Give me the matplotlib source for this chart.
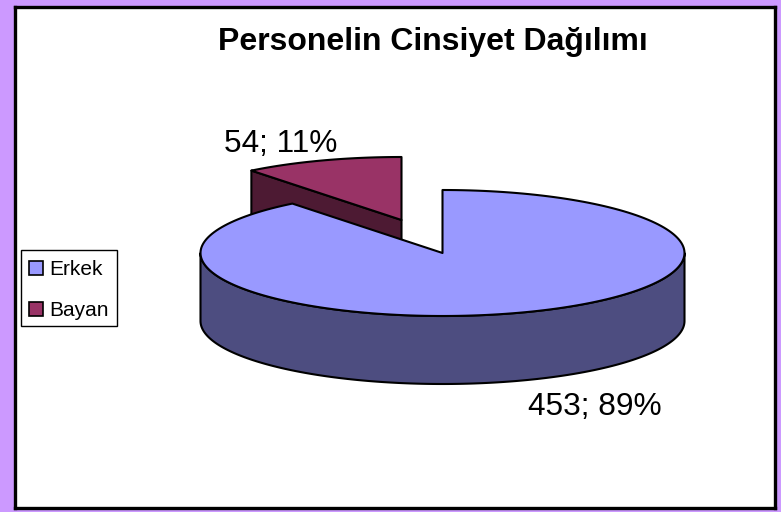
import numpy as np
import matplotlib
matplotlib.use('Agg')
import matplotlib.pyplot as plt
from matplotlib.patches import Patch, Rectangle

categorias = ['Erkek', 'Bayan']
valores = [453, 54]
colores_top = ['#9999FF', '#993366']
colores_lado = ['#4D4D80', '#4D1A33']

plt.rcParams['font.family'] = ['Liberation Sans', 'DejaVu Sans']

# centro y radios de la elipse, en pixeles de la imagen
cx, cy, rx, ry = 442.5, 253, 242, 63
prof = 68
dx, dy = -41, -33

total = sum(valores)
ang_fin = 90 - 360 * valores[0] / total


def arco(a1, a2, ox=0, oy=0):
    t = np.radians(np.linspace(a1, a2, 200))
    return cx + ox + rx * np.cos(t), cy + oy - ry * np.sin(t)


fig = plt.figure(figsize=(7.81, 5.12), dpi=100, facecolor='#CC99FF')
ax = fig.add_axes([15.5 / 781, 1 - 508 / 512, 759 / 781, 501 / 512])
ax.set_xlim(15.5, 774.5)
ax.set_ylim(508, 7)
ax.set_xticks([])
ax.set_yticks([])
for s in ax.spines.values():
    s.set_linewidth(2.4)
    s.set_color('black')

borde = dict(edgecolor='black', linewidth=1.5, joinstyle='round')

# porcion separada (Bayan): cara del corte, lado y tapa
xa, ya = arco(90, ang_fin + 360, dx, dy)
ax_ap, ay_ap = cx + dx, cy + dy
ax.fill([xa[-1], ax_ap, ax_ap, xa[-1]], [ya[-1], ay_ap, ay_ap + prof, ya[-1] + prof],
        facecolor=colores_lado[1], zorder=2, **borde)
ax.fill(np.r_[ax_ap, xa], np.r_[ay_ap, ya], facecolor=colores_top[1], zorder=3, **borde)

# lado de la porcion grande
xl1, yl1 = arco(0, -180)
xl2, yl2 = arco(-180, 0, 0, prof)
ax.fill(np.r_[xl1, xl2], np.r_[yl1, yl2], facecolor=colores_lado[0], zorder=4, **borde)

# tapa de la porcion grande
xb, yb = arco(90, ang_fin)
ax.fill(np.r_[cx, xb], np.r_[cy, yb], facecolor=colores_top[0], zorder=5, **borde)

ax.text(432.5, 42, 'Personelin Cinsiyet Dağılımı', fontsize=23, fontweight='bold',
        ha='center', va='center', color='black')

etiquetas = ['%d; %d%%' % (v, round(100 * v / total)) for v in valores]
ax.text(594.5, 407, etiquetas[0], fontsize=22.8, ha='center', va='center', color='black')
ax.text(280.5, 144, etiquetas[1], fontsize=22.8, ha='center', va='center', color='black')

# caja de la leyenda
ax.add_patch(Rectangle((20.5, 250), 96.5, 76, facecolor='white', edgecolor='black', linewidth=1, zorder=6))
handles = [Patch(facecolor=c, edgecolor='black', linewidth=1.2) for c in colores_top]
leg = ax.legend(handles, categorias, loc='center left', bbox_to_anchor=((28.5 - 15.5) / 759, 1 - (290 - 7) / 501),
                fontsize=15, frameon=False, handlelength=0.68, handleheight=0.65, handletextpad=0.32,
                labelspacing=1.05, borderpad=0, borderaxespad=0)
leg.set_zorder(7)

fig.savefig('out.png', dpi=100, facecolor=fig.get_facecolor())
